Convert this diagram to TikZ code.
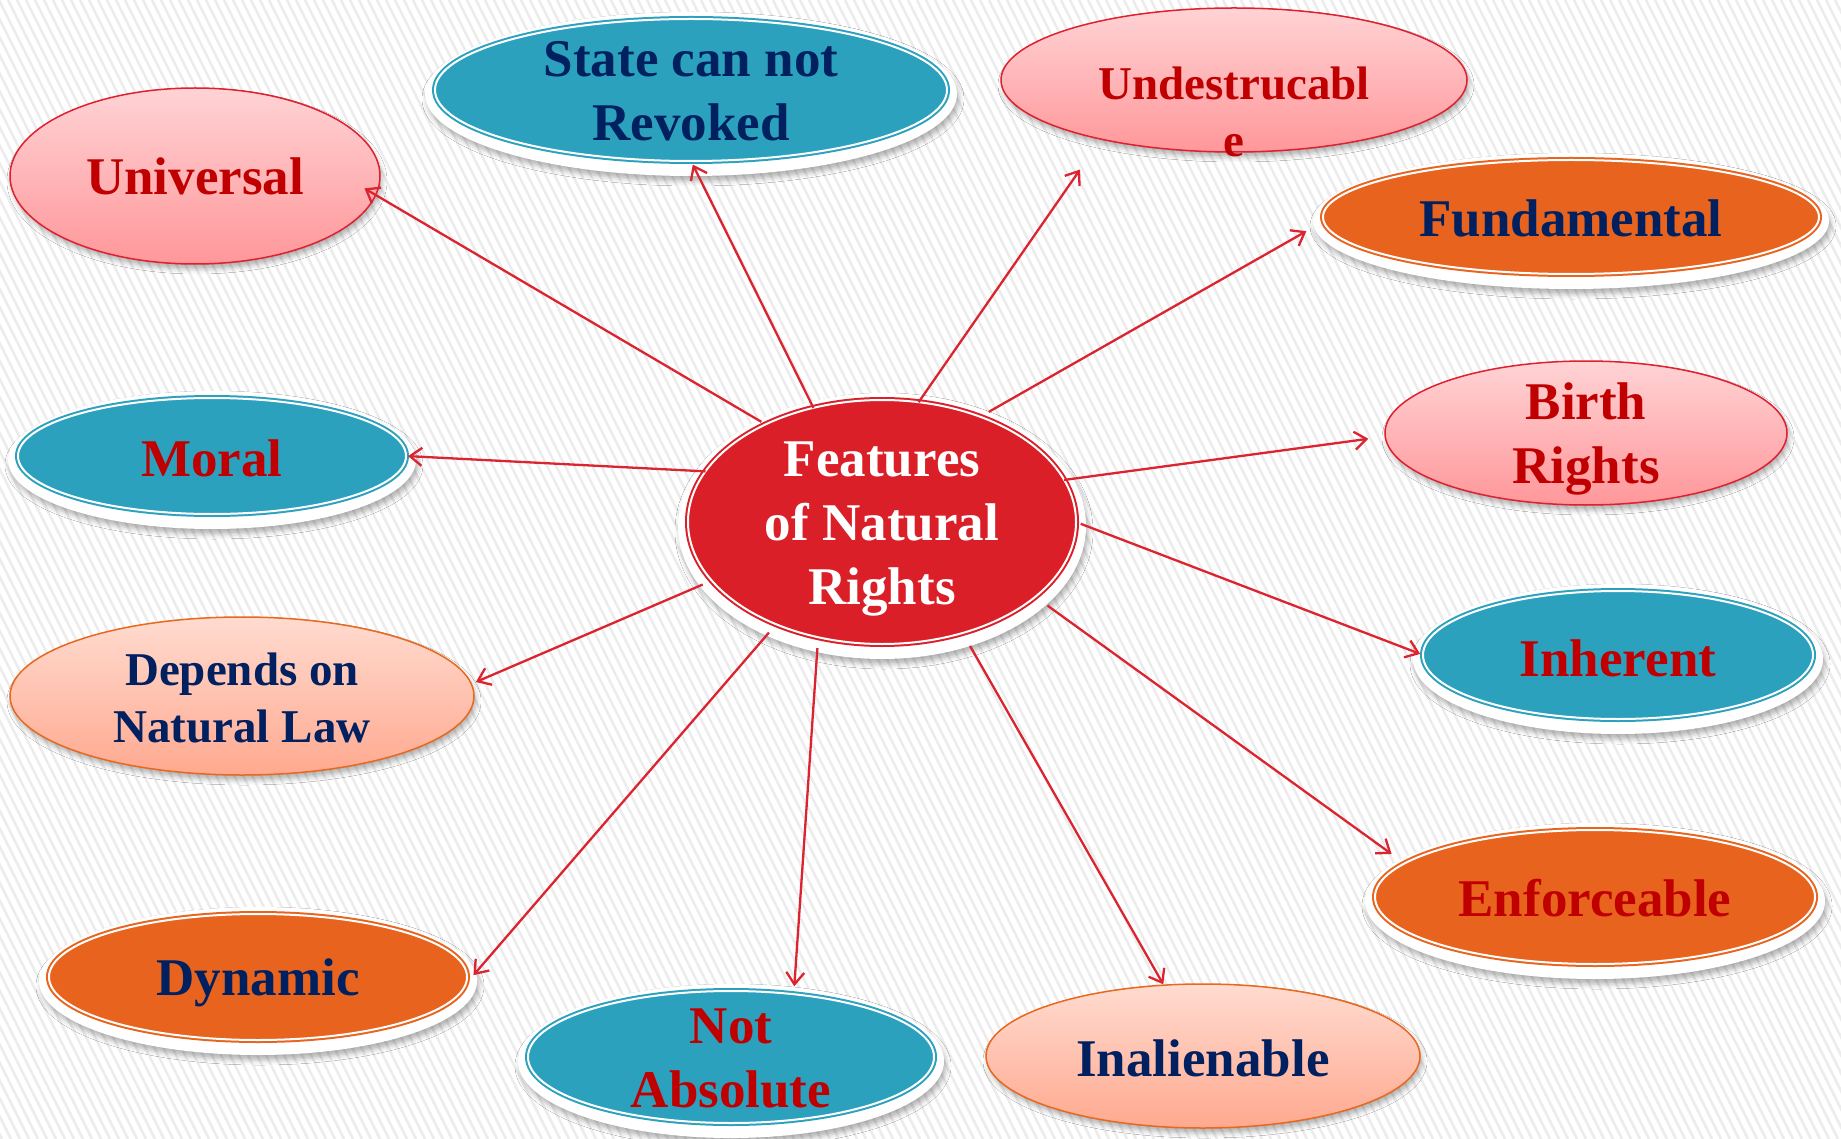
\documentclass[tikz,border=0pt]{standalone}
\usepackage{fontspec}
\setmainfont{Liberation Serif}
\usetikzlibrary{arrows.meta,shapes.geometric,shadows.blur}
\definecolor{stripecol}{HTML}{ECECEC}
\definecolor{cblue}{HTML}{2CA1BE}
\definecolor{corange}{HTML}{E8641E}
\definecolor{cred}{HTML}{DA1F28}
\definecolor{navy}{HTML}{002060}
\definecolor{dred}{HTML}{C00000}
\definecolor{arrred}{HTML}{DC2430}
\definecolor{pinktop}{HTML}{FFD3D5}
\definecolor{pinkbot}{HTML}{FF979A}
\definecolor{pinkedge}{HTML}{E0202E}
\definecolor{peachtop}{HTML}{FFDBD0}
\definecolor{peachbot}{HTML}{FFA98F}
\definecolor{peachedge}{HTML}{E8681E}
\tikzset{
  ell/.style n args={2}{ellipse, inner sep=0pt, outer sep=0pt, minimum width=#1pt, minimum height=#2pt},
  softshadow/.style={blur shadow={shadow xshift=2pt, shadow yshift=-5pt, shadow blur radius=5pt, shadow opacity=30}},
  pinknode/.style={draw=pinkedge, line width=1.5pt, top color=pinktop, bottom color=pinkbot, softshadow},
  peachnode/.style={draw=peachedge, line width=1.5pt, top color=peachtop, bottom color=peachbot, softshadow},
  dbl/.style={fill=#1, draw=#1, double=white, double distance=2pt, line width=2pt},
  rim/.style={fill=white, softshadow},
  tx/.style={font=\bfseries\fontsize{53}{64}\selectfont, align=center, inner sep=0pt},
  txs/.style={font=\bfseries\fontsize{47}{57}\selectfont, align=center, inner sep=0pt},
  arr/.style={draw=arrred, line width=2.3pt, -{Straight Barb[length=12pt,width=18pt]}},
  stripe/.style={draw=stripecol, line width=2.5pt}
}
\begin{document}
\begin{tikzpicture}[x=1pt,y=-1pt]
\useasboundingbox (0,0) rectangle (1841,1139);
\fill[white] (0,0) rectangle (1841,1139);
\begin{scope}
  \clip (0,0) rectangle (1841,1139);
  \foreach \i in {-640,-631,...,1841} \draw[stripe] (\i,0) -- ++(570,1139);
\end{scope}

% white rims of the framed ellipses
\fill[rim] (882,526) ellipse (204 and 133);
\fill[rim] (691,94) ellipse (266 and 82);
\fill[rim] (1571,221) ellipse (258 and 68);
\fill[rim] (1618,659) ellipse (205 and 75);
\fill[rim] (1595,901) ellipse (230 and 78);
\fill[rim] (731,1061) ellipse (213 and 77);
\fill[rim] (258,981) ellipse (219 and 74);
\fill[rim] (212,460) ellipse (204 and 69);

% ellipses
\node[dbl=cred, ell={388}{244}] (c) at (882,522) {};
\node[pinknode, ell={370}{176}] (u) at (195,176) {};
\node[dbl=cblue, ell={512}{142}] (s) at (691,90) {};
\node[pinknode, ell={466}{144}] (d) at (1234,80) {};
\node[dbl=corange, ell={496}{114}] (f) at (1571,217) {};
\node[pinknode, ell={402}{144}] (b) at (1586,433) {};
\node[dbl=cblue, ell={390}{128}] (i) at (1618,655) {};
\node[dbl=corange, ell={440}{134}] (e) at (1595,897) {};
\node[peachnode, ell={434}{144}] (n) at (1203,1056) {};
\node[dbl=cblue, ell={406}{132}] (a) at (731,1057) {};
\node[dbl=corange, ell={418}{126}] (y) at (258,977) {};
\node[peachnode, ell={464}{158}] (p) at (242,696) {};
\node[dbl=cblue, ell={388}{116}] (m) at (212,456) {};

% texts
\node[tx, text=white] (c-t) at ([yshift=-7pt]c.center) {Features\\of Natural\\Rights};
\node[tx, text=dred] (u-t) at (u) {Universal};
\node[tx, text=navy] (s-t) at ([yshift=-1pt]s.center) {State can not\\Revoked};
\node[txs, text=dred] (d-t) at ([yshift=-32pt]d.center) {Undestrucabl\\e};
\node[tx, text=navy] (f-t) at ([yshift=-1pt]f.center) {Fundamental};
\node[tx, text=dred] (b-t) at ([yshift=-6pt]b.center) {Birth\\Rights};
\node[tx, text=dred] (i-t) at ([yshift=-3pt]i.center) {Inherent};
\node[tx, text=dred] (e-t) at ([yshift=-1pt]e.center) {Enforceable};
\node[tx, text=navy] (n-t) at ([yshift=-2pt]n.center) {Inalienable};
\node[tx, text=dred] (a-t) at ([yshift=-1pt]a.center) {Not\\Absolute};
\node[tx, text=navy] (y-t) at ([yshift=-6pt]y.center) {Dynamic};
\node[txs, text=navy] (p-t) at ([yshift=-2pt]p.center) {Depends on\\Natural Law};
\node[tx, text=dred] (m-t) at ([yshift=-2pt]m.center) {Moral};

% connectors
\draw[arr, shorten <=5pt, shorten >=-13pt] (c.140.8) -- (u.-6);
\draw[arr, shorten >=4pt] (c.121.6) -- (s.-90);
\draw[arr, shorten >=37pt] (c.73.3) -- (d.204.3);
\draw[arr, shorten <=10pt, shorten >=20pt] (c.47.1) -- (f.181.9);
\draw[arr, shorten >=17pt] (c.13.6) -- (b.181.4);
\draw[arr, shorten <=5pt, shorten >=3pt] (c.0) -- (i.180.9);
\draw[arr, shorten <=15pt, shorten >=16pt] (c.-26.2) -- (e.170.6);
\draw[arr, shorten <=15pt, shorten >=1pt] (c.-54.7) -- (n.119.7);
\draw[arr, shorten <=11pt, shorten >=8pt] (c.-119.6) -- (a.45.4);
\draw[arr, shorten <=11pt, shorten >=12pt] (c.-136.7) -- (y.-2);
\draw[arr, shorten <=10pt, shorten >=5pt] (c.-161) -- (p.3.7);
\draw[arr, shorten >=2pt] (c.164.5) -- (m.0.3);
\end{tikzpicture}
\end{document}
